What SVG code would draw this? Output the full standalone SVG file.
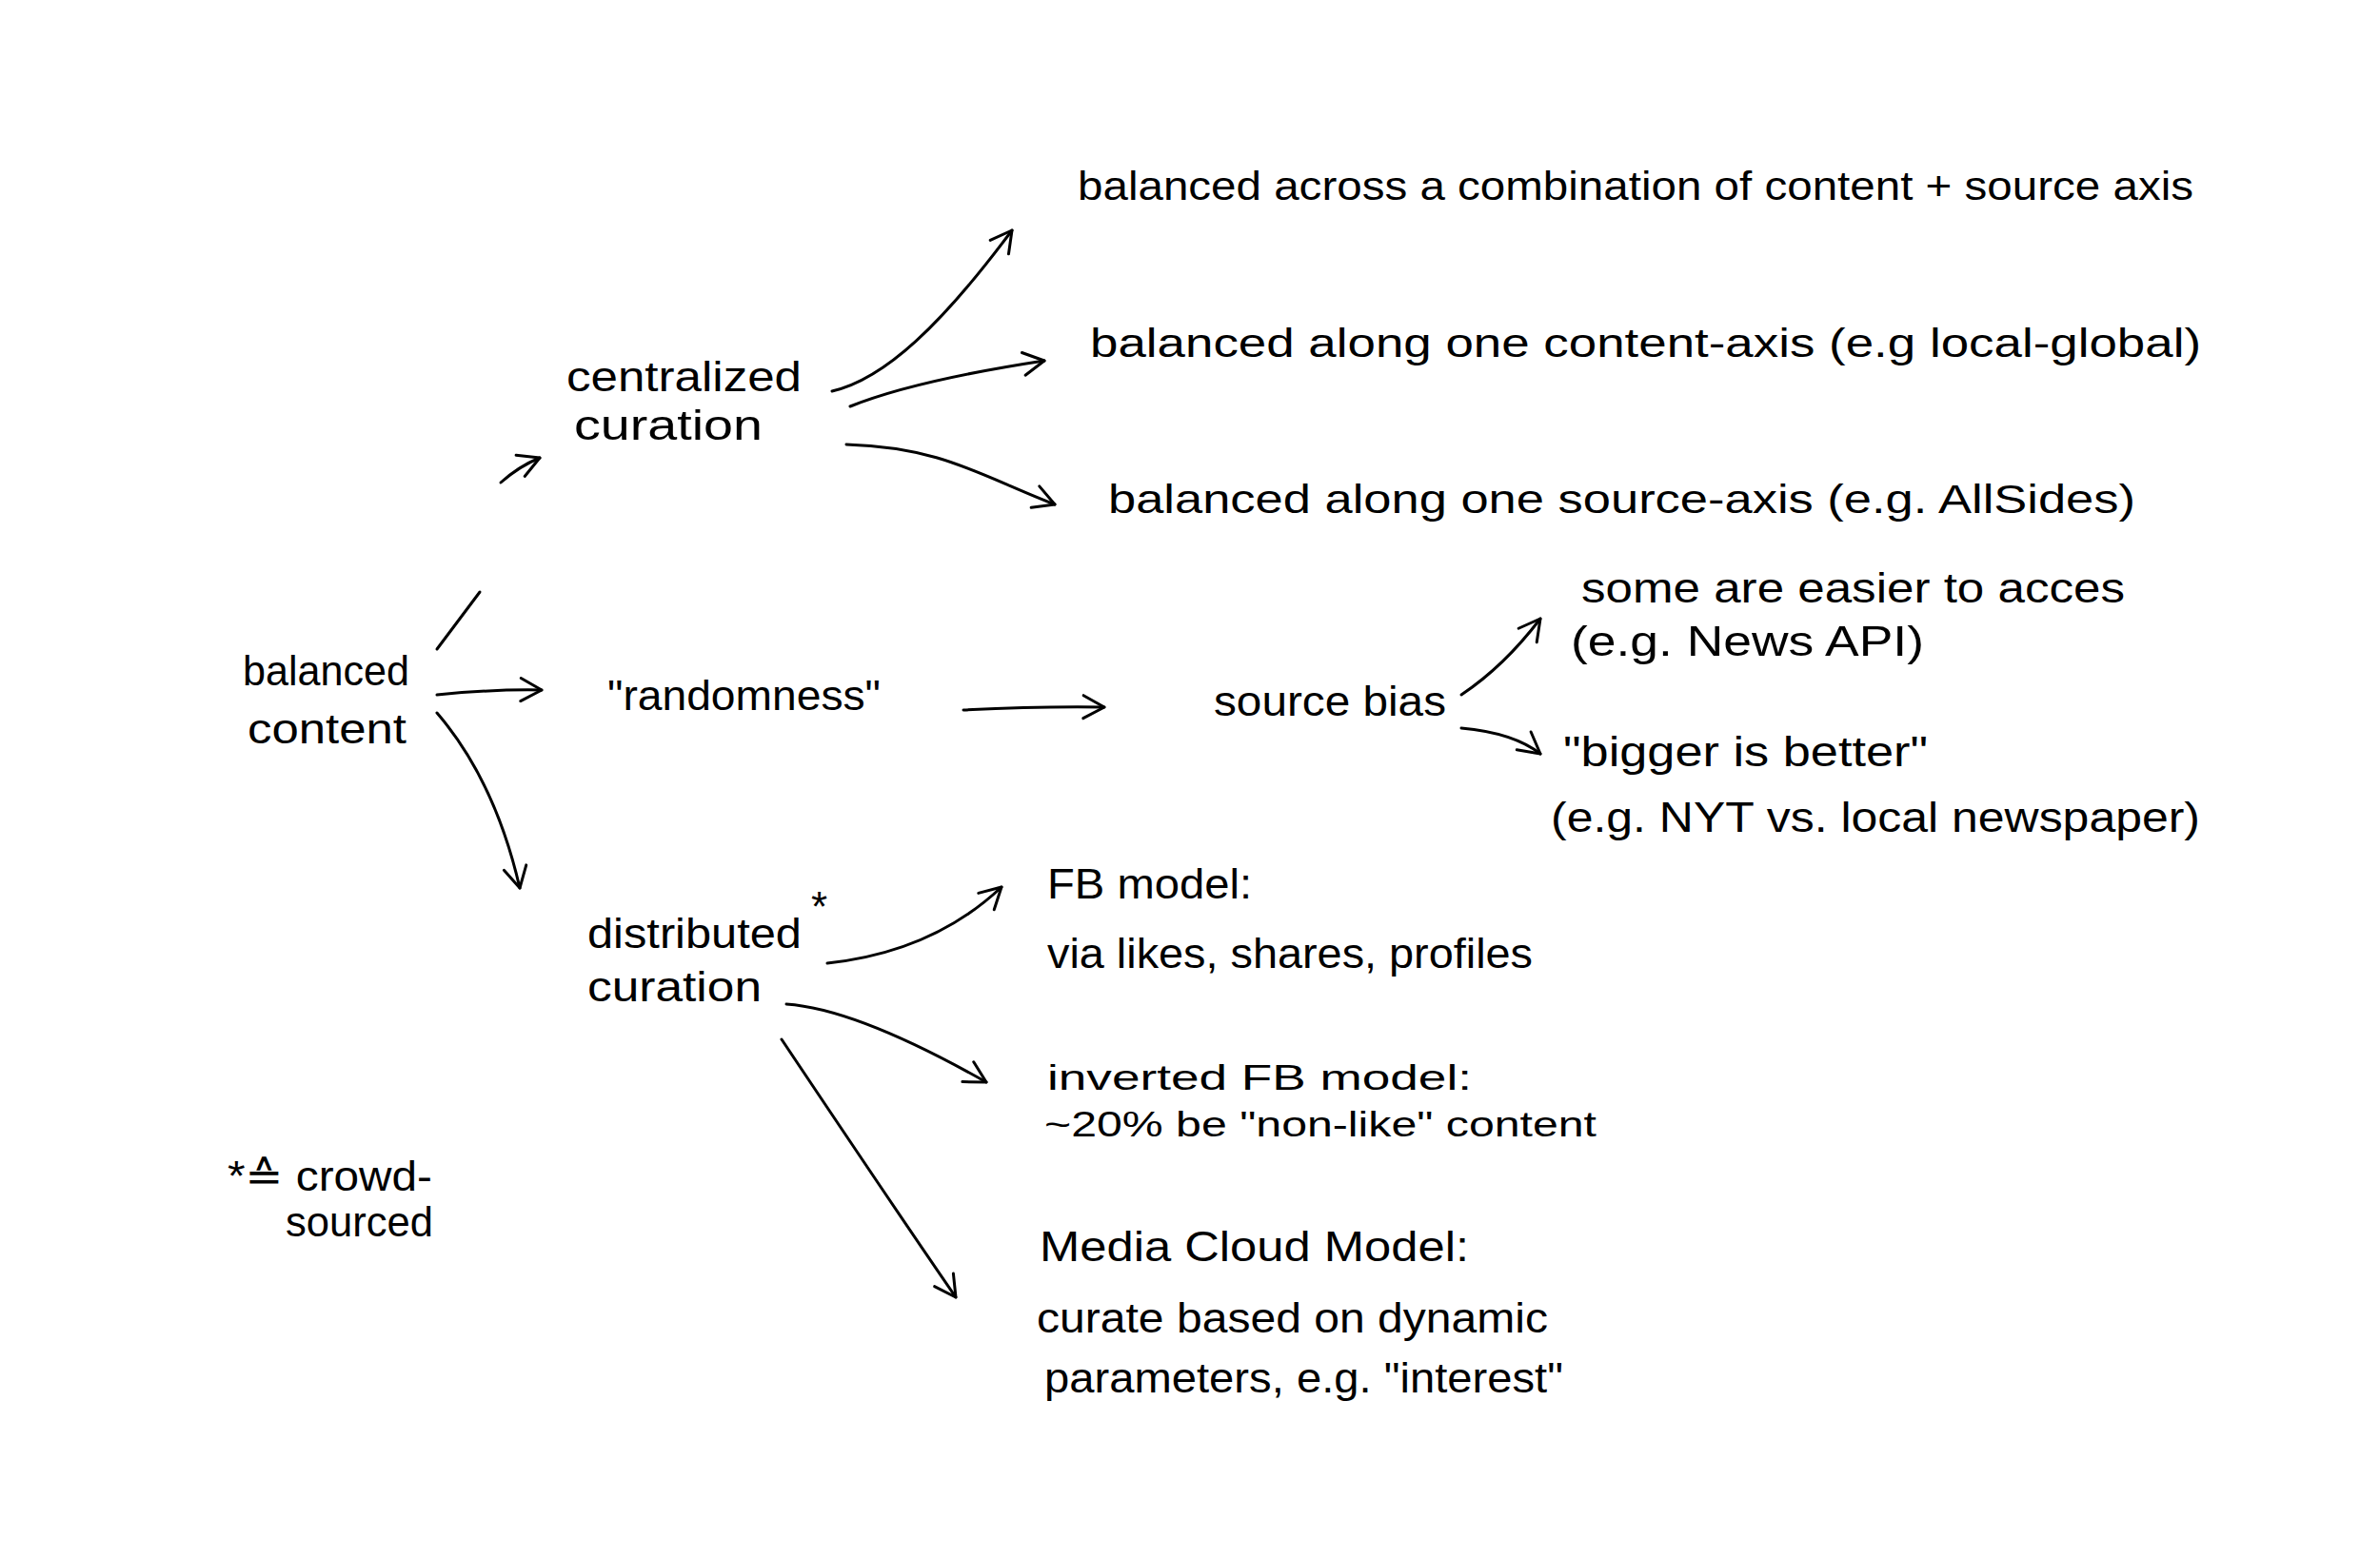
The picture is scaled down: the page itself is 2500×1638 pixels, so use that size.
<svg xmlns="http://www.w3.org/2000/svg" width="2500" height="1638" viewBox="0 0 2500 1638">
<style>
text{font-family:"Liberation Sans","DejaVu Sans",sans-serif;font-size:44px;fill:#000;}
.big{font-size:42px;}
.sm{font-size:36px;}
.c{fill:none;stroke:#000;stroke-width:3;stroke-linecap:round;stroke-linejoin:round;}
</style>
<defs>
<marker id="ah" markerUnits="userSpaceOnUse" markerWidth="40" markerHeight="40" refX="26" refY="14" orient="auto" viewBox="0 0 40 28">
<path d="M4,2 L26,14 L4,26" fill="none" stroke="#000" stroke-width="3" stroke-linecap="round" stroke-linejoin="round"/>
</marker>
</defs>
<rect width="2500" height="1638" fill="#fff"/>
<g id="connectors">
<path class="c" d="M459,682 L504,622"/>
<path class="c" d="M526,507 Q545,490 567,481" marker-end="url(#ah)"/>
<path class="c" d="M459,730 Q520,724 569,725" marker-end="url(#ah)"/>
<path class="c" d="M459,749 Q520,820 546,933" marker-end="url(#ah)"/>
<path class="c" d="M874,411 C930,398 990,340 1063,242" marker-end="url(#ah)"/>
<path class="c" d="M893,427 Q960,400 1097,379" marker-end="url(#ah)"/>
<path class="c" d="M889,467 C990,470 1030,500 1108,530" marker-end="url(#ah)"/>
<path class="c" d="M1012,746 Q1090,742 1160,743" marker-end="url(#ah)"/>
<path class="c" d="M1535,730 Q1580,700 1618,650" marker-end="url(#ah)"/>
<path class="c" d="M1535,765 Q1590,770 1618,792" marker-end="url(#ah)"/>
<path class="c" d="M869,1012 Q980,1000 1052,932" marker-end="url(#ah)"/>
<path class="c" d="M826,1055 Q900,1060 1036,1137" marker-end="url(#ah)"/>
<path class="c" d="M821,1092 Q940,1270 1004,1363" marker-end="url(#ah)"/>
</g>
<g id="n-balanced-content"><text x="255" y="720" textLength="175" lengthAdjust="spacingAndGlyphs">balanced</text><text x="260" y="781" textLength="167" lengthAdjust="spacingAndGlyphs">content</text></g>
<g id="n-centralized"><text x="595" y="411" textLength="247" lengthAdjust="spacingAndGlyphs">centralized</text><text x="603" y="462" textLength="198" lengthAdjust="spacingAndGlyphs">curation</text></g>
<g id="n-randomness"><text x="638" y="746" textLength="287" lengthAdjust="spacingAndGlyphs">"randomness"</text></g>
<g id="n-distributed"><text x="617" y="996" textLength="225" lengthAdjust="spacingAndGlyphs">distributed</text><text x="852" y="968">*</text><text x="617" y="1052" textLength="183" lengthAdjust="spacingAndGlyphs">curation</text></g>
<g id="n-combination"><text class="big" x="1132" y="210" textLength="1172" lengthAdjust="spacingAndGlyphs">balanced across a combination of content + source axis</text></g>
<g id="n-content-axis"><text class="big" x="1145" y="375" textLength="1167" lengthAdjust="spacingAndGlyphs">balanced along one content-axis (e.g local-global)</text></g>
<g id="n-source-axis"><text class="big" x="1164" y="539" textLength="1079" lengthAdjust="spacingAndGlyphs">balanced along one source-axis (e.g. AllSides)</text></g>
<g id="n-source-bias"><text x="1275" y="752" textLength="244" lengthAdjust="spacingAndGlyphs">source bias</text></g>
<g id="n-easier"><text x="1661" y="633" textLength="571" lengthAdjust="spacingAndGlyphs">some are easier to acces</text><text x="1650" y="689" textLength="371" lengthAdjust="spacingAndGlyphs">(e.g. News API)</text></g>
<g id="n-bigger"><text x="1642" y="805" textLength="383" lengthAdjust="spacingAndGlyphs">"bigger is better"</text><text x="1629" y="874" textLength="682" lengthAdjust="spacingAndGlyphs">(e.g. NYT vs. local newspaper)</text></g>
<g id="n-fb"><text x="1100" y="944" textLength="215" lengthAdjust="spacingAndGlyphs">FB model:</text><text x="1100" y="1017" textLength="510" lengthAdjust="spacingAndGlyphs">via likes, shares, profiles</text></g>
<g id="n-inverted"><text class="sm" x="1100" y="1145" textLength="446" lengthAdjust="spacingAndGlyphs">inverted FB model:</text><text class="sm" x="1097" y="1194" textLength="580" lengthAdjust="spacingAndGlyphs">~20% be "non-like" content</text></g>
<g id="n-mediacloud"><text x="1092" y="1325" textLength="451" lengthAdjust="spacingAndGlyphs">Media Cloud Model:</text><text x="1089" y="1400" textLength="537" lengthAdjust="spacingAndGlyphs">curate based on dynamic</text><text x="1097" y="1463" textLength="545" lengthAdjust="spacingAndGlyphs">parameters, e.g. "interest"</text></g>
<g id="n-footnote"><text x="239" y="1251" textLength="215" lengthAdjust="spacingAndGlyphs">*≙ crowd-</text><text x="300" y="1299" textLength="155" lengthAdjust="spacingAndGlyphs">sourced</text></g>
</svg>
